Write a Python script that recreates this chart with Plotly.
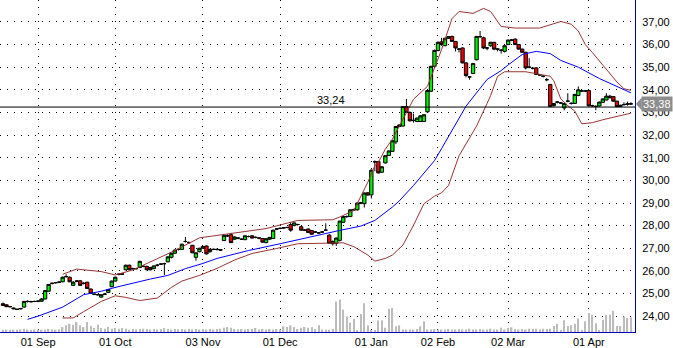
import plotly.graph_objects as go

# ---------------- data ----------------
tick_idx = [10, 32, 57, 79, 105, 124, 144, 167]
tick_labels = ["01 Sep", "01 Oct", "03 Nov", "01 Dec", "01 Jan", "02 Feb", "02 Mar", "01 Apr"]
price_ticks = list(range(24, 38))
price_labels = [f"{v},00" for v in price_ticks]

opens = [24.55, 24.50, 24.42, 24.36, 24.30, 24.32, 24.40, 24.65, 24.64, 24.65,
         24.66, 24.66, 24.76, 25.10, 25.45, 25.48, 25.50, 25.52, 25.75, 25.72,
         25.36, 25.55, 25.56, 25.45, 25.50, 25.20, 24.97, 24.95, 24.84, 24.97,
         25.05, 25.30, 25.55, 25.85, 25.86, 26.05, 26.25, 26.10, 26.10, 26.15,
         26.20, 26.20, 26.15, 26.10, 26.25, 26.30, 26.32, 26.40, 26.60, 26.78,
         26.95, 26.95, 27.30, 27.25, 27.13, 26.60, 26.85, 27.00, 27.10, 26.85,
         26.95, 26.95, 26.94, 27.34, 27.55, 27.60, 27.40, 27.45, 27.40, 27.38,
         27.52, 27.55, 27.48, 27.45, 27.43, 27.25, 27.40, 27.43, 27.85, 27.88,
         27.90, 27.92, 28.05, 28.00, 28.05, 27.95, 27.80, 27.85, 27.78, 27.72,
         27.68, 27.72, 27.80, 27.58, 27.30, 27.22, 27.35, 28.15, 28.40, 28.40,
         28.70, 28.70, 29.00, 28.97, 29.45, 29.36, 30.82, 30.83, 30.36, 30.77,
         31.10, 31.28, 31.70, 32.38, 32.40, 33.26, 33.00, 32.65, 32.60, 32.60,
         32.60, 33.03, 33.94, 35.04, 35.74, 36.12, 35.95, 36.28, 36.36, 36.14,
         35.80, 35.85, 35.19, 34.57, 34.72, 35.33, 36.35, 36.30, 35.85, 35.95,
         36.10, 35.80, 35.75, 35.70, 36.00, 36.20, 36.24, 36.00, 35.80, 35.66,
         35.00, 34.95, 34.97, 34.66, 34.60, 34.45, 34.24, 33.30, 33.46, 33.42,
         33.20, 33.50, 33.40, 33.40, 33.75, 33.95, 33.95, 33.97, 33.30, 33.27,
         33.29, 33.45, 33.55, 33.72, 33.70, 33.50, 33.26, 33.35, 33.36, 33.38]

highs = [24.60, 24.52, 24.45, 24.38, 24.33, 24.36, 24.68, 24.70, 24.68, 24.68,
         24.70, 24.80, 25.15, 25.42, 25.48, 25.50, 25.55, 25.75, 25.85, 25.75,
         25.55, 25.60, 25.60, 25.50, 25.52, 25.22, 25.00, 24.98, 24.97, 25.02,
         25.20, 25.57, 25.75, 25.88, 25.90, 26.28, 26.28, 26.14, 26.13, 26.45,
         26.25, 26.23, 26.18, 26.25, 26.30, 26.35, 26.36, 26.65, 26.80, 26.95,
         26.98, 27.20, 27.50, 27.30, 27.15, 26.82, 27.02, 27.10, 27.12, 26.98,
         26.99, 26.98, 26.97, 27.60, 27.62, 27.68, 27.53, 27.48, 27.43, 27.58,
         27.56, 27.58, 27.52, 27.48, 27.45, 27.44, 27.50, 27.82, 27.88, 27.92,
         27.93, 27.95, 28.15, 28.14, 28.08, 27.98, 27.84, 27.88, 27.80, 27.75,
         27.72, 27.75, 28.10, 27.62, 27.35, 27.48, 28.22, 28.42, 28.45, 28.72,
         28.75, 29.02, 29.05, 29.47, 29.48, 30.48, 30.88, 30.86, 30.62, 31.10,
         31.32, 31.78, 32.40, 32.48, 33.28, 33.60, 33.05, 32.95, 32.78, 32.88,
         32.92, 33.98, 35.06, 35.78, 36.14, 36.30, 36.30, 36.38, 36.40, 36.16,
         35.85, 35.88, 35.22, 34.60, 35.18, 36.38, 36.60, 36.35, 35.88, 36.12,
         36.12, 35.85, 35.80, 35.97, 36.22, 36.25, 36.28, 36.02, 35.82, 35.68,
         35.40, 35.00, 35.00, 34.70, 34.64, 34.52, 34.26, 33.42, 33.50, 33.46,
         33.42, 33.85, 33.45, 33.82, 34.15, 34.00, 33.98, 34.00, 33.34, 33.30,
         33.48, 33.62, 33.85, 33.78, 33.72, 33.52, 33.34, 33.45, 33.48, 33.45]

lows = [24.45, 24.40, 24.38, 24.30, 24.27, 24.30, 24.38, 24.60, 24.60, 24.62,
        24.62, 24.64, 24.74, 25.08, 25.40, 25.44, 25.46, 25.50, 25.70, 25.50,
        25.33, 25.50, 25.34, 25.40, 25.20, 24.98, 24.93, 24.90, 24.82, 24.94,
        25.03, 25.28, 25.53, 25.80, 25.82, 26.02, 26.03, 26.06, 26.06, 26.12,
        26.16, 26.03, 26.02, 26.08, 26.20, 26.26, 25.82, 26.38, 26.55, 26.75,
        26.90, 26.93, 27.25, 27.20, 26.78, 26.45, 26.82, 26.97, 26.73, 26.80,
        26.92, 26.90, 26.88, 27.32, 27.50, 27.23, 27.38, 27.40, 27.37, 27.36,
        27.48, 27.43, 27.44, 27.40, 27.25, 27.22, 27.38, 27.42, 27.82, 27.84,
        27.86, 27.88, 27.73, 27.98, 28.00, 27.78, 27.76, 27.68, 27.60, 27.68,
        27.64, 27.68, 27.76, 27.20, 27.12, 27.10, 27.30, 28.12, 28.35, 28.38,
        28.65, 28.66, 28.95, 28.80, 29.33, 29.20, 30.40, 30.30, 30.34, 30.75,
        31.08, 31.26, 31.60, 32.35, 32.38, 33.00, 32.60, 32.55, 32.58, 32.58,
        32.58, 33.00, 33.90, 35.00, 35.70, 35.95, 35.93, 36.25, 36.12, 35.70,
        35.65, 35.17, 34.55, 34.45, 34.70, 35.30, 36.30, 35.80, 35.75, 35.90,
        35.75, 35.70, 35.60, 35.65, 35.98, 36.15, 35.98, 35.78, 35.64, 34.90,
        34.95, 34.90, 34.66, 34.62, 34.55, 34.38, 33.24, 33.26, 33.40, 33.38,
        33.10, 33.45, 33.35, 33.38, 33.72, 33.90, 33.90, 33.27, 33.25, 33.10,
        33.26, 33.43, 33.53, 33.63, 33.48, 33.24, 33.24, 33.30, 33.30, 33.33]

closes = [24.47, 24.42, 24.42, 24.33, 24.30, 24.34, 24.65, 24.65, 24.64, 24.65,
          24.66, 24.76, 25.13, 25.40, 25.45, 25.48, 25.50, 25.72, 25.75, 25.52,
          25.50, 25.55, 25.36, 25.45, 25.22, 25.00, 24.97, 24.95, 24.95, 24.97,
          25.18, 25.55, 25.72, 25.85, 25.86, 26.25, 26.05, 26.10, 26.10, 26.42,
          26.20, 26.05, 26.05, 26.22, 26.25, 26.30, 26.32, 26.62, 26.78, 26.92,
          26.95, 27.18, 27.30, 27.25, 26.80, 26.80, 27.00, 27.08, 26.75, 26.95,
          26.95, 26.95, 26.92, 27.57, 27.55, 27.25, 27.50, 27.45, 27.40, 27.55,
          27.52, 27.45, 27.48, 27.45, 27.27, 27.42, 27.48, 27.80, 27.85, 27.88,
          27.90, 27.92, 27.80, 28.12, 28.05, 27.80, 27.80, 27.70, 27.62, 27.72,
          27.68, 27.72, 27.80, 27.22, 27.20, 27.45, 28.20, 28.40, 28.40, 28.70,
          28.70, 29.00, 29.00, 29.44, 29.35, 30.45, 30.82, 30.33, 30.60, 31.09,
          31.30, 31.75, 32.38, 32.45, 33.26, 33.00, 32.63, 32.65, 32.75, 32.85,
          32.90, 33.97, 35.04, 35.74, 36.10, 36.00, 36.28, 36.35, 36.14, 35.85,
          35.80, 35.19, 34.63, 34.57, 35.16, 36.36, 36.35, 35.85, 35.85, 36.10,
          35.80, 35.80, 35.75, 35.95, 36.20, 36.20, 36.00, 35.80, 35.66, 34.97,
          35.00, 34.95, 34.68, 34.66, 34.60, 34.45, 33.26, 33.40, 33.46, 33.42,
          33.40, 33.50, 33.40, 33.80, 34.00, 33.95, 33.95, 33.29, 33.30, 33.27,
          33.46, 33.60, 33.72, 33.65, 33.50, 33.26, 33.32, 33.35, 33.38, 33.38]

volume = [2.3, 2.5, 2.3, 2.5, 2.3, 2.5, 3.0, 2.5, 2.3, 2.5,
          2.5, 2.3, 2.5, 3.0, 2.5, 2.3, 2.5, 5.0, 6.7, 8.3,
          7.3, 10.0, 6.7, 5.0, 10.0, 6.0, 4.0, 7.3, 4.0, 3.3,
          5.0, 3.3, 4.0, 3.3, 4.0, 3.3, 2.3, 3.0, 2.5, 3.0,
          3.3, 3.0, 2.5, 3.0, 2.5, 3.0, 4.0, 3.0, 2.5, 3.0,
          2.5, 3.0, 2.5, 3.0, 2.5, 3.0, 2.5, 3.0, 2.5, 3.0,
          2.5, 3.0, 3.3, 4.3, 5.0, 4.3, 3.0, 2.5, 3.0, 2.5,
          3.0, 3.0, 4.0, 2.5, 3.0, 2.5, 3.0, 2.5, 3.0, 2.5,
          5.7, 5.0, 6.7, 5.0, 3.0, 4.3, 5.0, 4.3, 4.7, 3.0,
          6.7, 2.5, 2.3, 2.3, 3.0, 30.7, 32.7, 22.3, 15.7, 9.3,
          13.3, 1.7, 18.0, 29.0, 6.7, 1.7, 2.0, 11.7, 11.7, 4.3,
          23.3, 24.3, 5.7, 6.7, 2.5, 2.5, 2.5, 2.5, 3.0, 5.7,
          10.7, 2.5, 2.5, 3.0, 2.5, 2.5, 2.5, 3.0, 2.5, 2.5,
          3.0, 2.5, 2.5, 3.3, 2.5, 2.5, 3.0, 2.5, 2.5, 3.3,
          2.5, 2.5, 4.3, 2.5, 4.0, 4.7, 3.0, 2.5, 3.0, 2.5,
          3.3, 3.0, 3.3, 2.5, 3.3, 3.0, 3.3, 6.0, 8.3, 1.7,
          11.7, 6.0, 6.7, 8.3, 13.7, 1.7, 10.7, 19.0, 17.3, 8.7,
          1.7, 12.3, 17.3, 17.3, 21.3, 6.0, 6.0, 15.7, 14.0, 14.7]

ma_idx = [7, 10, 17, 23, 28, 32, 42, 47, 52, 57, 61, 66, 70, 79, 90, 96, 102,
          106, 111, 113, 117, 123, 125, 132, 138, 142, 144, 148, 152, 156, 159,
          164, 170, 175, 179]
ma_val = [23.86, 24.0, 24.4, 24.95, 25.1, 25.27, 25.64, 25.8, 26.1, 26.33, 26.55,
          26.75, 26.9, 27.2, 27.6, 27.79, 27.98, 28.23, 28.82, 29.1, 29.77, 30.87,
          31.4, 33.28, 34.46, 34.85, 35.1, 35.56, 35.7, 35.6, 35.3, 35.0, 34.5,
          34.14, 33.87]

ub_idx = [17, 21, 28, 32, 37, 42, 49, 56, 65, 68, 75, 84, 94, 96, 100, 104, 106,
          107, 109, 111, 117, 121, 125, 128, 130, 134, 137, 139, 142, 146, 153,
          159, 162, 164, 166, 168, 171, 173, 175, 177, 179]
ub_val = [25.85, 26.08, 25.97, 25.82, 26.04, 26.4, 26.9, 27.46, 27.65, 27.72,
          27.87, 28.23, 28.26, 28.38, 28.67, 29.92, 30.65, 30.8, 31.38, 31.82,
          33.58, 34.16, 35.77, 37.15, 37.46, 37.38, 37.6, 37.46, 36.8, 36.73,
          36.73, 37.02, 36.9, 36.6, 36.0, 35.65, 35.1, 34.75, 34.35, 34.05, 33.98]

lb_idx = [17, 20, 23, 28, 32, 35, 39, 44, 48, 51, 56, 61, 66, 71, 78, 84, 97,
          100, 104, 106, 109, 111, 114, 117, 120, 123, 125, 127, 130, 135, 138,
          139, 141, 143, 149, 154, 156, 157, 159, 161, 163, 165, 168, 171, 176, 179]
lb_val = [23.92, 23.92, 24.2, 24.65, 24.9, 24.83, 24.69, 24.8, 25.27, 25.55, 25.8,
          26.11, 26.48, 26.77, 26.99, 27.2, 27.24, 27.07, 26.7, 26.43, 26.55, 26.7,
          27.14, 28.01, 28.97, 29.3, 29.45, 29.77, 31.09, 32.4, 33.4, 33.75, 34.6,
          34.8, 34.8, 34.68, 34.6, 34.4, 33.6, 33.3, 33.06, 32.5, 32.55, 32.68,
          32.85, 32.97]

ref_level = 33.24
ref_label = "33,24"
last_price = 33.38
last_label = "33,38"

# ---------------- figure ----------------
idx = list(range(len(closes)))
AXIS_BLUE = "#0000b4"
BAND = "#993333"

fig = go.Figure()

fig.add_trace(go.Bar(x=idx, y=volume, yaxis="y2", width=0.4,
                     marker=dict(color="#bcbcbc", line=dict(width=0)),
                     hoverinfo="skip", showlegend=False))

fig.add_trace(go.Scatter(x=ub_idx, y=ub_val, mode="lines",
                         line=dict(color=BAND, width=1), showlegend=False, hoverinfo="skip"))
fig.add_trace(go.Scatter(x=lb_idx, y=lb_val, mode="lines",
                         line=dict(color=BAND, width=1), showlegend=False, hoverinfo="skip"))
fig.add_trace(go.Scatter(x=ma_idx, y=ma_val, mode="lines",
                         line=dict(color="#0000ff", width=1), showlegend=False, hoverinfo="skip"))

fig.add_trace(go.Candlestick(
    x=idx, open=opens, high=highs, low=lows, close=closes,
    increasing=dict(line=dict(color="black", width=1), fillcolor="#00ee00"),
    decreasing=dict(line=dict(color="black", width=1), fillcolor="#ee0000"),
    whiskerwidth=0, showlegend=False))

fig.add_shape(type="line", xref="paper", x0=0, x1=1, yref="y",
              y0=ref_level, y1=ref_level, line=dict(color="black", width=1))

fig.add_annotation(x=93.5, y=ref_level, xref="x", yref="y", text=ref_label,
                   showarrow=False, yanchor="bottom", yshift=-1,
                   font=dict(size=11, color="black", family="Liberation Sans, Arial"))

# price tag on the right axis
fig.add_shape(type="path", xref="paper", yref="y",
              path=f"M 1.0016,{last_price} L 1.0105,{last_price + 0.28} L 1.0105,{last_price - 0.28} Z",
              fillcolor="#8c8c8c", line=dict(width=0))
fig.add_annotation(x=1, y=last_price, xref="paper", yref="y", text=last_label,
                   showarrow=False, xanchor="left", xshift=6, bgcolor="#8c8c8c",
                   borderpad=1, font=dict(size=11, color="white", family="Liberation Sans, Arial"))

fig.update_layout(
    width=673, height=348,
    margin=dict(l=0, r=38, t=0, b=14),
    paper_bgcolor="white", plot_bgcolor="white",
    font=dict(family="Liberation Sans, Arial", size=11, color="black"),
    showlegend=False,
    boxgap=0.05, boxgroupgap=0,
    xaxis=dict(range=[-0.855, 180.16], tickvals=tick_idx, ticktext=tick_labels,
               showgrid=True, gridcolor="black", gridwidth=1, griddash="1px,6px",
               showline=True, linecolor=AXIS_BLUE, linewidth=1, ticks="",
               zeroline=False, rangeslider=dict(visible=False), fixedrange=True,
               tickfont=dict(size=11)),
    yaxis=dict(range=[23.30, 37.97], side="right", tickvals=price_ticks,
               ticktext=price_labels, showgrid=True, gridcolor="black", gridwidth=1,
               griddash="1px,6px", showline=True, linecolor=AXIS_BLUE, linewidth=1,
               ticks="", zeroline=False, ticklabelstandoff=4, tickfont=dict(size=11)),
    yaxis2=dict(range=[0, 334], overlaying="y", visible=False, fixedrange=True),
)

fig.write_html("out.html")
